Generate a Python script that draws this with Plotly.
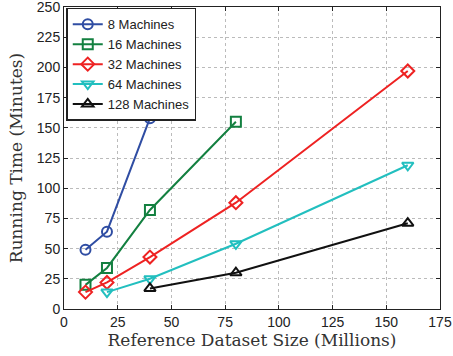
import plotly.graph_objects as go

names = ["8 Machines", "16 Machines", "32 Machines", "64 Machines", "128 Machines"]
xs = [
    [10, 20, 40],
    [10, 20, 40, 80],
    [10, 20, 40, 80, 160],
    [20, 40, 80, 160],
    [40, 80, 160],
]
ys = [
    [49, 64, 158],
    [20, 34, 82, 155],
    [14, 22, 43, 88, 197],
    [14, 25, 54, 119],
    [17, 30, 71],
]
colors = ["#2f4da3", "#138040", "#ee2222", "#22bfbf", "#111111"]
symbols = ["circle-open", "square-open", "diamond-open", "triangle-down-open", "triangle-up-open"]
xticks = [0, 25, 50, 75, 100, 125, 150, 175]
yticks = [0, 25, 50, 75, 100, 125, 150, 175, 200, 225, 250]

fig = go.Figure()
for n, x, y, c, s in zip(names, xs, ys, colors, symbols):
    fig.add_trace(go.Scatter(
        x=x, y=y, name=n, mode="lines+markers",
        line=dict(color=c, width=2),
        marker=dict(symbol=s, size=10, color=c, line=dict(width=2, color=c)),
        cliponaxis=False,
    ))

axis_common = dict(
    showline=True, linecolor="#222", linewidth=1, mirror="ticks",
    ticks="inside", ticklen=4, tickcolor="#222",
    showgrid=True, gridcolor="#bbbbbb", griddash="dot", gridwidth=1,
    zeroline=False, automargin=False, ticklabeloverflow="allow",
    tickfont=dict(family="Liberation Sans, Arial", size=14, color="#222"),
)
title_font = dict(family="DejaVu Serif, Liberation Serif", size=17, color="#333")
fig.update_xaxes(range=[0, 175], tickvals=xticks, **axis_common,
                 title=dict(text="Reference Dataset Size (Millions)", font=title_font, standoff=5))
fig.update_yaxes(range=[0, 250], tickvals=yticks, **axis_common,
                 title=dict(text="Running Time (Minutes)", font=title_font, standoff=9))

fig.update_layout(
    width=453, height=356,
    margin=dict(l=64, r=13, t=7, b=47, autoexpand=False),
    plot_bgcolor="white", paper_bgcolor="white",
    legend=dict(x=0.006, y=0.997, xanchor="left", yanchor="top",
                bgcolor="white", bordercolor="#222", borderwidth=1.5,
                font=dict(family="Liberation Sans, Arial", size=13, color="#222"),
                tracegroupgap=0, itemwidth=30),
    showlegend=True,
)
fig.write_html("out.html", config={"displayModeBar": False},
               post_script="document.body.style.margin='0';document.body.style.overflow='hidden';")
